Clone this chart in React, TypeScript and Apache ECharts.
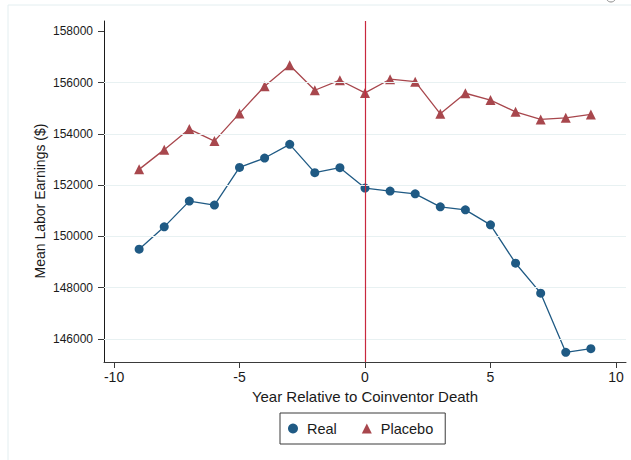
import React, { useEffect, useRef } from "react";
import * as echarts from "echarts";

const years = [-9, -8, -7, -6, -5, -4, -3, -2, -1, 0, 1, 2, 3, 4, 5, 6, 7, 8, 9];
const realValues = [149500, 150371, 151375, 151219, 152690, 153055, 153590, 152484, 152680, 151883, 151766, 151660, 151152, 151035, 150449, 148953, 147785, 145477, 145621];
const placeboValues = [152613, 153383, 154184, 153715, 154797, 155855, 156676, 155699, 156090, 155594, 156129, 156035, 154781, 155582, 155316, 154859, 154562, 154625, 154758];
const xTicks = [-10, -5, 0, 5, 10];
const yTicks = [146000, 148000, 150000, 152000, 154000, 156000, 158000];
const yGridValues = [146000, 148000, 150000, 152000, 154000, 156000];
const eventYear = 0;

const FONT = "'Liberation Sans', Arial, Helvetica, sans-serif";
const BLUE = "#1f5a84";
const RED = "#a8474d";

export default function App() {
  const ref = useRef<HTMLDivElement>(null);
  useEffect(() => {
    if (!ref.current) return;
    const chart = echarts.init(ref.current, null, { renderer: "svg" });
    const option: any = {
      animation: false,
      backgroundColor: "#ffffff",
      textStyle: { fontFamily: FONT },
      grid: { left: 104, right: 5, top: 21, bottom: 98, containLabel: false },
      xAxis: {
        type: "value",
        min: -10.4,
        max: 10.4,
        name: "Year Relative to Coinventor Death",
        nameLocation: "middle",
        nameGap: 24,
        nameTextStyle: { fontSize: 15, color: "#1a1a1a", fontFamily: FONT },
        axisLine: { show: true, onZero: false, lineStyle: { color: "#3a3a3a", width: 1 } },
        axisTick: { show: true, length: 6, customValues: xTicks, lineStyle: { color: "#3a3a3a" } },
        axisLabel: { customValues: xTicks, fontSize: 14, color: "#1a1a1a", margin: 8, fontFamily: FONT },
        splitLine: { show: false },
      },
      yAxis: {
        type: "value",
        min: 145100,
        max: 158400,
        axisLine: { show: true, onZero: false, lineStyle: { color: "#1a1a1a", width: 1 } },
        axisTick: { show: true, length: 6, customValues: yTicks, lineStyle: { color: "#3a3a3a" } },
        axisLabel: {
          customValues: yTicks,
          fontSize: 12,
          color: "#1a1a1a",
          margin: 11,
          fontFamily: FONT,
          formatter: (v: number) => String(v),
        },
        splitLine: { show: false },
      },
      legend: {
        left: 280,
        top: 413,
        orient: "horizontal",
        padding: [8, 12, 8, 8],
        itemWidth: 10,
        itemHeight: 10,
        itemGap: 25,
        borderColor: "#3a3a3a",
        borderWidth: 1,
        borderRadius: 0,
        textStyle: { fontSize: 14.5, color: "#1a1a1a", fontFamily: FONT, padding: [0, 0, 0, 4] },
        data: [
          { name: "Real", icon: "circle" },
          { name: "Placebo", icon: "triangle" },
        ],
      },
      graphic: [
        {
          type: "rect",
          shape: { x: 8, y: 5, width: 640, height: 470 },
          style: { fill: "none", stroke: "#e3eef0", lineWidth: 1 },
          silent: true,
          z: -10,
        },
        {
          type: "circle",
          shape: { cx: 611, cy: -3, r: 5 },
          style: { fill: "none", stroke: "#8a8a8a", lineWidth: 1 },
          silent: true,
        },
        {
          type: "text",
          x: 40,
          y: 201,
          rotation: Math.PI / 2,
          style: {
            text: "Mean Labor Earnings ($)",
            fontSize: 14,
            fontFamily: FONT,
            fill: "#1a1a1a",
            align: "center",
            verticalAlign: "middle",
          },
        },
      ],
      series: [
        {
          name: "grid",
          type: "line",
          data: [],
          z: 1,
          silent: true,
          markLine: {
            silent: true,
            symbol: "none",
            label: { show: false },
            lineStyle: { color: "#e8f1f2", width: 1, type: "solid" },
            data: yGridValues.map((v) => ({ yAxis: v })),
          },
        },
        {
          name: "event",
          type: "line",
          data: [],
          z: 2,
          silent: true,
          markLine: {
            silent: true,
            symbol: "none",
            label: { show: false },
            lineStyle: { color: "#c8283e", width: 1.2, type: "solid" },
            data: [{ xAxis: eventYear }],
          },
        },
        {
          name: "Real",
          type: "line",
          data: years.map((y, i) => [y, realValues[i]]),
          symbol: "circle",
          symbolSize: 9,
          z: 4,
          itemStyle: { color: BLUE },
          lineStyle: { color: BLUE, width: 1.3 },
        },
        {
          name: "Placebo",
          type: "line",
          data: years.map((y, i) => [y, placeboValues[i]]),
          symbol: "triangle",
          symbolSize: 10,
          z: 4,
          itemStyle: { color: RED },
          lineStyle: { color: RED, width: 1.3 },
        },
      ],
    };
    chart.setOption(option);
    return () => chart.dispose();
  }, []);
  return (
    <div
      ref={ref}
      style={{ position: "fixed", left: 0, top: 0, width: 631, height: 460 }}
    />
  );
}
